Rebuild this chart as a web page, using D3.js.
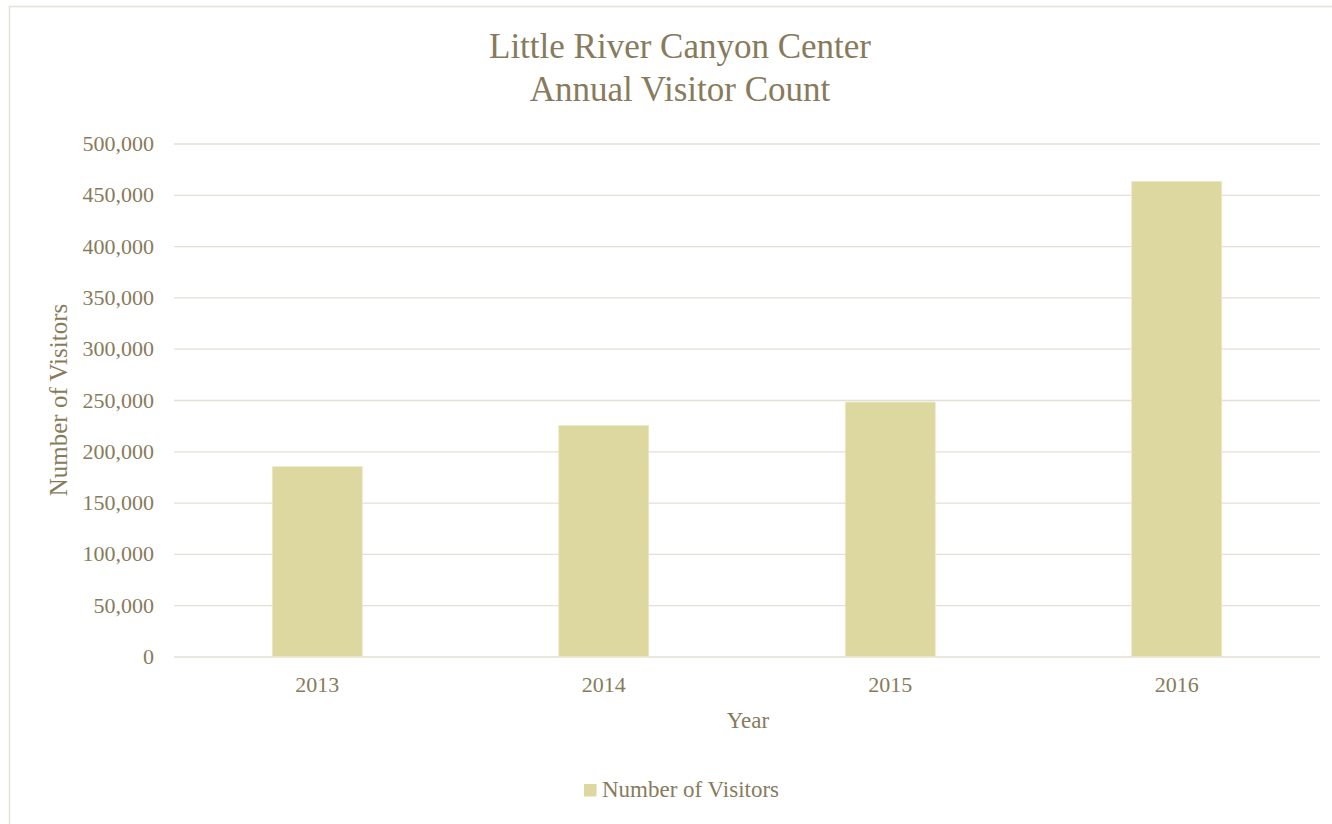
<!DOCTYPE html>
<html>
<head>
<meta charset="utf-8">
<script src="https://cdn.jsdelivr.net/npm/d3@7"></script>
<style>
  body { margin: 0; background: #fff; }
  text { font-family: "Liberation Serif", "Times New Roman", serif; fill: #877b5c; }
</style>
</head>
<body>
<svg id="chart" width="1332" height="824"></svg>
<script>
// data
const years = ["2013", "2014", "2015", "2016"];
const visitors = [185000, 225000, 248000, 463000];
const yTicks = [0, 50000, 100000, 150000, 200000, 250000, 300000, 350000, 400000, 450000, 500000];
const titleLines = ["Little River Canyon Center", "Annual Visitor Count"];
const seriesName = "Number of Visitors";

const svg = d3.select("#chart");

// frame
svg.append("rect")
  .attr("x", 9.5).attr("y", 6.5)
  .attr("width", 1400).attr("height", 900)
  .attr("fill", "#fff")
  .attr("stroke", "#e3e0d5")
  .attr("stroke-width", 1.5);

const margin = { top: 143.5, right: 12, bottom: 167.5, left: 174 };
const width = 1332 - margin.left - margin.right,
  height = 824 - margin.top - margin.bottom;

const g = svg.append("g").attr("transform", `translate(${margin.left},${margin.top})`);

const x = d3.scaleBand()
  .domain(years)
  .range([0, width])
  .paddingInner(0.686)
  .paddingOuter(0.343);

const y = d3.scaleLinear()
  .domain([0, 500000])
  .range([height, 0]);

// grid + y labels
const yAxis = g.append("g")
  .call(d3.axisLeft(y).tickValues(yTicks).tickSize(-width).tickPadding(20).tickFormat(d3.format(",")));
yAxis.select(".domain").remove();
yAxis.selectAll("line").attr("stroke", "#e3dfd5").attr("stroke-width", 1.3);
yAxis.selectAll("text")
  .attr("fill", "#877b5c")
  .style("font-size", "22px")
  .attr("dy", "0.32em");

// bars
g.selectAll("rect.bar")
  .data(visitors)
  .join("rect")
  .attr("class", "bar")
  .attr("x", (d, i) => x(years[i]))
  .attr("y", d => y(d))
  .attr("width", x.bandwidth())
  .attr("height", d => height - y(d))
  .attr("fill", "#dcd89f")
  .attr("stroke", "#ece8c4")
  .attr("stroke-width", 0.8);

// x labels
g.selectAll("text.xlab")
  .data(years)
  .join("text")
  .attr("class", "xlab")
  .attr("x", d => x(d) + x.bandwidth() / 2)
  .attr("y", height + 35.5)
  .attr("text-anchor", "middle")
  .style("font-size", "22px")
  .text(d => d);

// title
svg.selectAll("text.title")
  .data(titleLines)
  .join("text")
  .attr("class", "title")
  .attr("x", 680)
  .attr("y", (d, i) => 58 + i * 43)
  .attr("text-anchor", "middle")
  .style("font-size", "35px")
  .text(d => d);

// axis titles
svg.append("text")
  .attr("transform", "translate(67,400) rotate(-90)")
  .attr("text-anchor", "middle")
  .style("font-size", "25px")
  .text(seriesName);

svg.append("text")
  .attr("x", 748)
  .attr("y", 728)
  .attr("text-anchor", "middle")
  .style("font-size", "23px")
  .text("Year");

// legend
const legend = svg.append("g").attr("transform", "translate(584,784)");
legend.append("rect")
  .attr("width", 12.5).attr("height", 12.5)
  .attr("fill", "#dcd89f");
legend.append("text")
  .attr("x", 18).attr("y", 13)
  .style("font-size", "23px")
  .text(seriesName);
</script>
</body>
</html>
